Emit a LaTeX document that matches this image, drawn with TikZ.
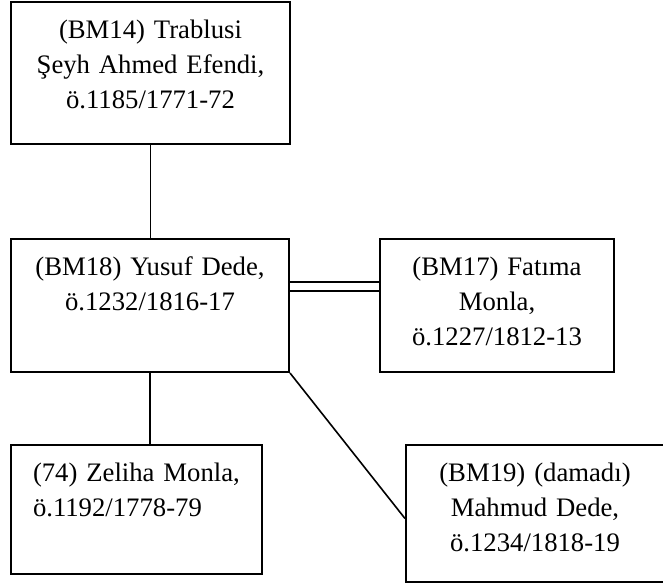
\documentclass[tikz,border=0pt]{standalone}
\usepackage{fontspec}
\setmainfont{Liberation Serif}
\usetikzlibrary{positioning}

\begin{document}
\begin{tikzpicture}[x=1pt, y=1pt, person/.style={draw, line width=2pt, inner sep=0pt, align=center, text height=36pt, font=\fontsize{26.7}{35}\selectfont}, link/.style={line width=1.6pt}]
    \useasboundingbox (0,0) rectangle (663,-582);
    \node [person, anchor=north west, text width=279pt, text depth=106pt] (bm14) at (10,-1) {(BM14) Trablusi\\Şeyh Ahmed Efendi,\\ö.1185/1771-72};
    \node [person, below=93pt of bm14.south west, anchor=north west, text width=278pt, text depth=97pt] (bm18) {(BM18) Yusuf Dede,\\ö.1232/1816-17};
    \node [person, right=89pt of bm18.north east, anchor=north west, text width=234pt, text depth=97pt] (bm17) {(BM17) Fatıma\\Monla,\\ö.1227/1812-13};
    \node [person, below=71pt of bm18.south west, anchor=north west, align=left, inner xsep=22pt, text width=207pt, text depth=93pt] (zeliha) {(74) Zeliha Monla,\\ö.1192/1778-79};
    \node [person, right=142pt of zeliha.north east, anchor=north west, text width=258pt, text depth=101pt] (bm19) {(BM19) (damadı)\\Mahmud Dede,\\ö.1234/1818-19};

    \draw[link] (bm14.south) -- (bm14.south |- bm18.north);
    \draw[link, double, double distance=7pt] ([yshift=19pt]bm18.east) -- ([yshift=19pt]bm18.east -| bm17.west);
    \draw[link] (bm18.south) -- (bm18.south |- zeliha.north);
    \draw[link] (bm18.south east) -- ([yshift=-5pt]bm19.west);
\end{tikzpicture}
\end{document}
